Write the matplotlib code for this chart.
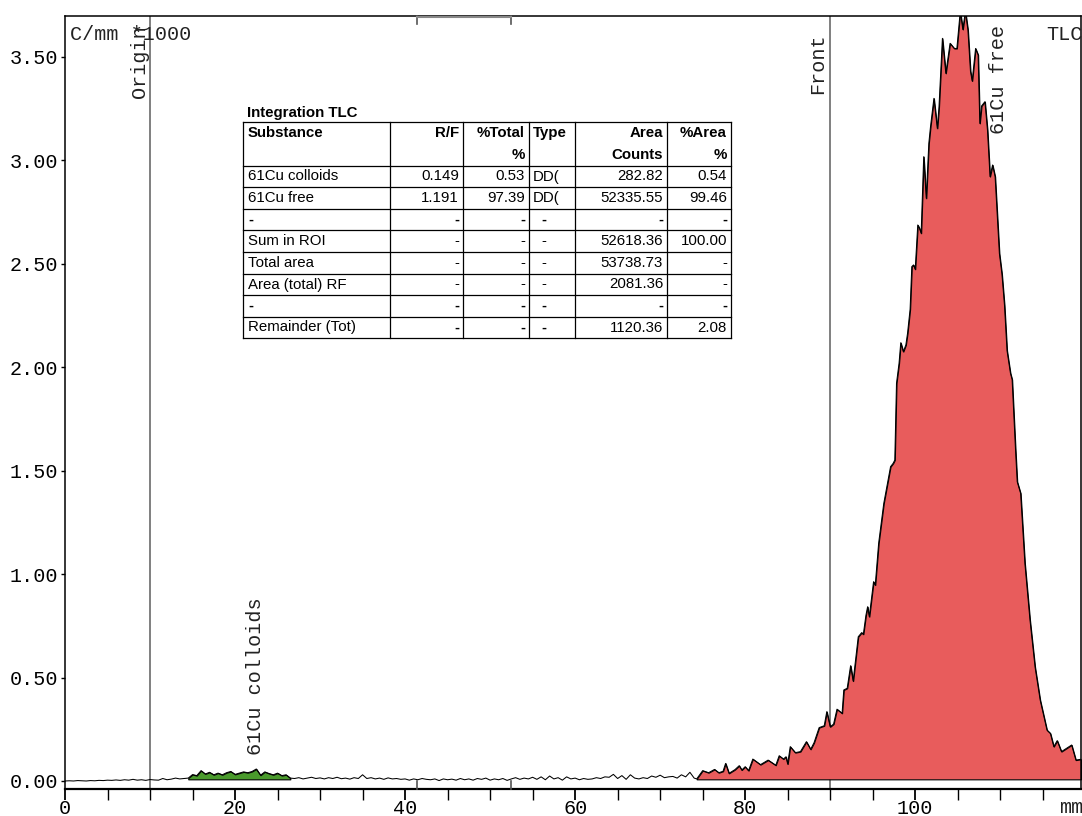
import numpy as np
import matplotlib.pyplot as plt
from matplotlib.lines import Line2D

plt.rcParams['font.family'] = ['Liberation Mono', 'DejaVu Sans Mono']

# TLC scan, counts per mm (x1000) along the plate
base_left_c = [0.000, 0.001, 0.000, 0.002, 0.001, 0.000, 0.002, 0.001, 0.003, 0.002,
               0.004, 0.003, 0.005, 0.003, 0.006, 0.004, 0.008, 0.004, 0.006, 0.003,
               0.007, 0.005, 0.004, 0.012, 0.006, 0.009, 0.014, 0.010, 0.012]
colloid_c = [0.014, 0.031, 0.026, 0.050, 0.034, 0.042, 0.030, 0.038, 0.030, 0.040,
             0.046, 0.032, 0.038, 0.044, 0.040, 0.046, 0.058, 0.028, 0.044, 0.036,
             0.030, 0.038, 0.026, 0.030, 0.014]
base_mid_c = [0.012, 0.016, 0.010, 0.014, 0.018, 0.012, 0.015, 0.010, 0.016, 0.012,
              0.018, 0.011, 0.014, 0.009, 0.016, 0.012, 0.030, 0.012, 0.016, 0.010,
              0.014, 0.008, 0.015, 0.010, 0.012, 0.008, 0.010, 0.004, 0.010, 0.006,
              0.012, 0.008, 0.006, 0.010, 0.002, 0.010, 0.006, 0.009, 0.004, 0.012,
              0.006, 0.010, 0.004, 0.012, 0.008, 0.014, 0.004, 0.010, 0.006, 0.012,
              0.003, 0.010, 0.016, 0.008, 0.014, 0.010, 0.018, 0.008, 0.020, 0.006,
              0.024, 0.010, 0.016, 0.004, 0.020, 0.010, 0.014, 0.006, 0.012, 0.008,
              0.010, 0.016, 0.012, 0.020, 0.018, 0.032, 0.012, 0.026, 0.008, 0.030,
              0.014, 0.010, 0.016, 0.012, 0.024, 0.018, 0.028, 0.016, 0.020, 0.022,
              0.014, 0.030, 0.020, 0.042, 0.014]
base_left_mm = 0.0 + 0.5 * np.arange(len(base_left_c))
colloid_mm = 14.5 + 0.5 * np.arange(len(colloid_c))
base_mid_mm = 27.0 + 0.5 * np.arange(len(base_mid_c))

free_mm = [74.3, 75.0, 75.7, 76.4, 76.9, 77.4, 77.7, 78.1, 78.8, 79.3, 79.6, 80.0,
           80.4, 80.9, 81.8, 82.7, 83.6, 84.0, 84.5, 84.8, 85.0, 85.3, 85.9, 86.5,
           87.2, 87.7, 88.1, 88.7, 89.3, 89.6, 90.0, 90.4, 90.8, 91.4, 91.6, 92.0,
           92.4, 92.7, 93.3, 93.7, 93.9, 94.2, 94.4, 94.6, 95.1, 95.3, 95.7, 96.3,
           97.1, 97.4, 97.6, 97.8, 98.1, 98.3, 98.6, 98.9, 99.1, 99.4, 99.6, 99.8,
           100.0, 100.3, 100.5, 100.7, 101.0, 101.3, 101.6, 101.8, 102.2, 102.6,
           102.8, 103.2, 103.6, 104.1, 104.6, 104.9, 105.3, 105.6, 105.9, 106.2,
           106.5, 106.7, 107.1, 107.4, 107.6, 107.8, 108.2, 108.5, 108.8, 109.1,
           109.4, 109.9, 110.2, 110.5, 110.8, 111.2, 111.4, 111.8, 112.0, 112.4,
           112.9, 113.5, 114.1, 114.7, 115.5, 115.9, 116.3, 116.7, 117.2, 117.8,
           118.4, 118.9, 119.5]
free_c = [0.010, 0.050, 0.040, 0.056, 0.040, 0.047, 0.085, 0.037, 0.055, 0.074, 0.053, 0.069,
          0.050, 0.106, 0.079, 0.101, 0.076, 0.122, 0.106, 0.117, 0.082, 0.166, 0.137, 0.142,
          0.190, 0.153, 0.185, 0.258, 0.267, 0.335, 0.262, 0.275, 0.347, 0.327, 0.440, 0.448,
          0.557, 0.483, 0.697, 0.717, 0.709, 0.800, 0.842, 0.794, 0.963, 0.947, 1.149, 1.341,
          1.519, 1.535, 1.551, 1.922, 2.019, 2.118, 2.075, 2.107, 2.164, 2.280, 2.486, 2.494,
          2.473, 2.687, 2.671, 2.647, 3.017, 2.816, 3.081, 3.162, 3.299, 3.154,
          3.259, 3.589, 3.420, 3.565, 3.540, 3.540, 3.720, 3.632, 3.720, 3.630,
          3.430, 3.383, 3.540, 3.509, 3.178, 3.262, 3.283, 3.146, 2.921, 2.977,
          2.921, 2.550, 2.450, 2.300, 2.080, 1.971, 1.940, 1.600, 1.446, 1.390,
          1.052, 0.778, 0.550, 0.391, 0.246, 0.230, 0.166, 0.195, 0.142, 0.158,
          0.174, 0.101, 0.105]

origin_mm, front_mm = 10.0, 90.0
roi_mm = [41.4, 52.5]
peak_base = 0.008

table_title = 'Integration TLC'
table_header = [('Substance', ''), ('R/F', ''), ('%Total', '%'), ('Type', ''),
                ('Area', 'Counts'), ('%Area', '%')]
table_rows = [
    ['61Cu colloids', '0.149', '0.53', 'DD(', '282.82', '0.54'],
    ['61Cu free', '1.191', '97.39', 'DD(', '52335.55', '99.46'],
    ['-', '-', '-', '-', '-', '-'],
    ['Sum in ROI', '-', '-', '-', '52618.36', '100.00'],
    ['Total area', '-', '-', '-', '53738.73', '-'],
    ['Area (total) RF', '-', '-', '-', '2081.36', '-'],
    ['-', '-', '-', '-', '-', '-'],
    ['Remainder (Tot)', '-', '-', '-', '1120.36', '2.08'],
]
bold_dash_rows = [2, 6, 7]

W, H = 1082, 816
fig = plt.figure(figsize=(W / 100, H / 100), dpi=100)
ax = fig.add_axes([65 / W, 27 / H, 1016 / W, 773 / H])

x_all = np.concatenate([base_left_mm, colloid_mm, base_mid_mm, free_mm])
y_all = np.concatenate([base_left_c, colloid_c, base_mid_c, free_c])

ax.fill_between(colloid_mm, colloid_c, peak_base, facecolor='#4a9a2c',
                edgecolor='black', lw=0.8, zorder=2)
ax.fill_between(free_mm, free_c, peak_base, facecolor='#e85c5c',
                edgecolor='black', lw=0.8, zorder=2)
ax.plot(x_all, y_all, color='black', lw=0.75, zorder=3)

ax.axvline(origin_mm, color='#6a6a6a', lw=1.2, zorder=1)
ax.axvline(front_mm, color='#6a6a6a', lw=1.2, zorder=1)

# ROI brackets at top and bottom
for xm in roi_mm:
    ax.plot([xm, xm], [-0.0387, 0.0], color='#555555', lw=1.2, clip_on=False, zorder=4)
    ax.plot([xm, xm], [3.697, 3.657], color='#555555', lw=1.2, clip_on=False, zorder=4)
ax.plot(roi_mm, [3.692, 3.692], color='#888888', lw=1.5, zorder=4)

ax.set_xlim(0, 119.5)
ax.set_ylim(-0.0387, 3.697)

ax.set_xticks(np.arange(0, 101, 20))
ax.set_xticks(np.arange(0, 120, 5), minor=True)
ax.set_yticks(np.arange(0, 3.51, 0.5))
ax.set_yticklabels([f'{v:.2f}' for v in np.arange(0, 3.51, 0.5)])
ax.tick_params(axis='x', which='major', direction='out', length=8, width=1.3,
               labelsize=14.5, pad=-1)
ax.tick_params(axis='x', which='minor', direction='out', length=8, width=1.0)
ax.tick_params(axis='y', direction='out', length=3, width=1.0, labelsize=14.5, pad=2)
for s in ax.spines.values():
    s.set_linewidth(1.1)
ax.spines['bottom'].set_linewidth(1.6)

txt = dict(fontsize=14.5, color='#222222')
ax.text(118.4, -0.13, 'mm', ha='center', va='center', **txt)
ax.text(0.6, 3.606, 'C/mm *1000', ha='left', va='center', **txt)
ax.text(115.4, 3.606, 'TLC', ha='left', va='center', **txt)
ax.text(8.8, 3.654, 'Origin', rotation=90, ha='center', va='top', **txt)
ax.text(88.5, 3.615, 'Front', rotation=90, ha='center', va='top', **txt)
ax.text(109.8, 3.654, '61Cu free', rotation=90, ha='center', va='top', **txt)
ax.text(22.35, 0.889, '61Cu colloids', rotation=90, ha='center', va='top', **txt)

# integration table, laid out in figure pixels
def fx(px):
    return px / W

def fy(py):
    return 1 - py / H

col_x = [243, 390, 463, 529, 575, 667, 731]
row_y = [122, 166, 187, 209, 230, 252, 274, 295, 317, 338]
sans = ['Liberation Sans', 'DejaVu Sans']
tfs = 10.8

fig.text(fx(247), fy(113), table_title, family=sans, fontsize=tfs,
         fontweight='bold', va='center', ha='left')
for xp in col_x:
    fig.add_artist(Line2D([fx(xp), fx(xp)], [fy(row_y[0]), fy(row_y[-1])],
                          color='black', lw=0.9))
for yp in row_y:
    fig.add_artist(Line2D([fx(col_x[0]), fx(col_x[-1])], [fy(yp), fy(yp)],
                          color='black', lw=0.9))

def cell_text(ci, yc, s, bold):
    if ci == 0:
        xp, ha = col_x[ci] + 5, 'left'
    elif ci == 3:
        xp, ha = col_x[ci] + (12 if s == '-' else 4), 'left'
    else:
        xp, ha = col_x[ci + 1] - 4, 'right'
    fig.text(fx(xp), fy(yc), s, family=sans, fontsize=tfs, ha=ha, va='center',
             fontweight='bold' if bold else 'normal')

for ci, (l1, l2) in enumerate(table_header):
    cell_text(ci, 133, l1, True)
    if l2:
        cell_text(ci, 155, l2, True)
for ri, row in enumerate(table_rows):
    yc = (row_y[ri + 1] + row_y[ri + 2]) / 2
    for ci, s in enumerate(row):
        cell_text(ci, yc, s, s == '-' and ri in bold_dash_rows)

fig.savefig('out.png', dpi=100)
